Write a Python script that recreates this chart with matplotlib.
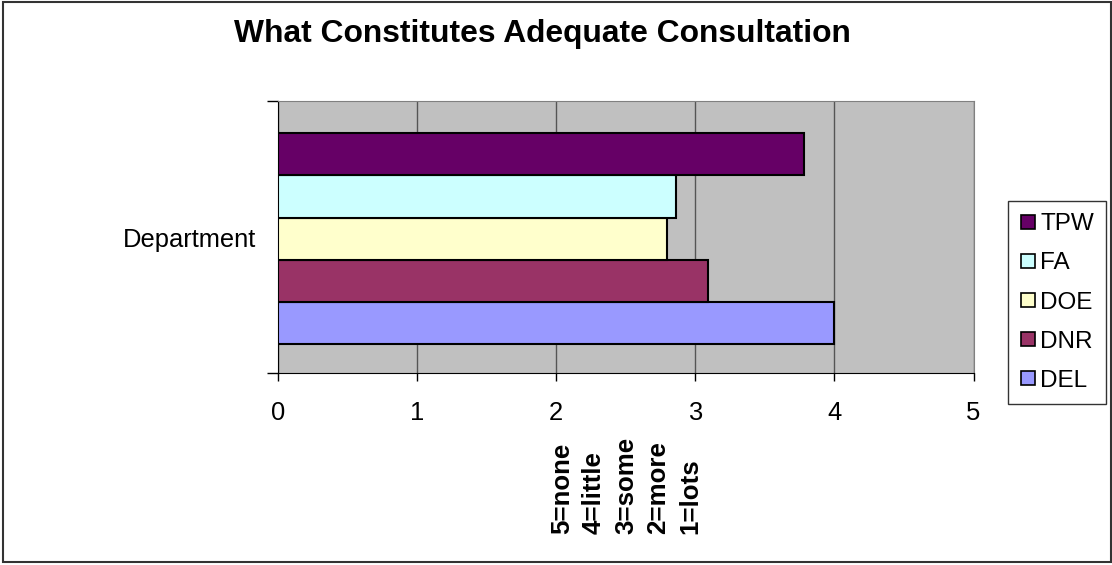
import matplotlib.pyplot as plt
from matplotlib.lines import Line2D
from matplotlib.patches import Rectangle

plt.rcParams['font.family'] = ['Liberation Sans', 'DejaVu Sans']

# series, bottom to top
series = ['DEL', 'DNR', 'DOE', 'FA', 'TPW']
scores = [4.0, 3.09, 2.80, 2.86, 3.78]
colors = ['#9999FF', '#993366', '#FFFFCC', '#CCFFFF', '#660066']
category = 'Department'
scale_note = ['5=none', '4=little', '3=some', '2=more', '1=lots']

W, H = 1112, 565
fig = plt.figure(figsize=(W / 100, H / 100), dpi=100)
ax = fig.add_axes([278 / W, 1 - 373 / H, (973.5 - 278) / W, (373 - 101) / H])
ax.set_facecolor('#C0C0C0')

pos = list(range(len(series)))
ax.barh(pos, scores, height=1.0, color=colors, edgecolor='black', linewidth=1.5, zorder=3)

ax.set_xlim(0, 5)
ax.set_ylim(-1.19, 5.265)
ax.set_xticks(range(6))
ax.tick_params(axis='x', labelsize=18.4, length=6, width=1, pad=14, direction='out')
ax.grid(axis='x', color='#555555', linewidth=1, zorder=1)

# category ticks at the band edges, label in the middle
ax.set_yticks([-1.19, 5.265], ['', ''])
ax.set_yticks([(-1.19 + 5.265) / 2], [category], minor=True)
ax.tick_params(axis='y', which='major', length=8, width=1)
ax.tick_params(axis='y', which='minor', length=0, labelsize=18.4, pad=16)

for s in ['top', 'right']:
    ax.spines[s].set_color('#808080')
for s in ['left', 'bottom']:
    ax.spines[s].set_color('black')

fig.text(542 / W, 1 - 42 / H, 'What Constitutes Adequate Consultation',
         ha='center', va='baseline', fontsize=22.9, fontweight='bold')

fig.text(626 / W, 1 - 534 / H, '\n'.join(scale_note), rotation=90,
         ha='center', va='bottom', multialignment='left',
         fontsize=18.6, fontweight='bold', linespacing=1.42)

handles = [Line2D([], [], marker='s', linestyle='none', markersize=10.5,
                  markerfacecolor=c, markeredgecolor='black', markeredgewidth=1.2)
           for c in colors[::-1]]
fig.legend(handles, series[::-1], loc='center',
           bbox_to_anchor=(1057 / W, 1 - 302.5 / H), fontsize=17.5,
           frameon=True, fancybox=False, edgecolor='#333333', framealpha=1,
           labelspacing=0.7, handlelength=0.7, handletextpad=0.15,
           borderpad=0.5, borderaxespad=0)

fig.add_artist(Rectangle((3 / W, 3 / H), (1111 - 3) / W, (562 - 2) / H,
                         transform=fig.transFigure, fill=False,
                         edgecolor='#333333', linewidth=1.5))

fig.savefig('out.png', dpi=100)
